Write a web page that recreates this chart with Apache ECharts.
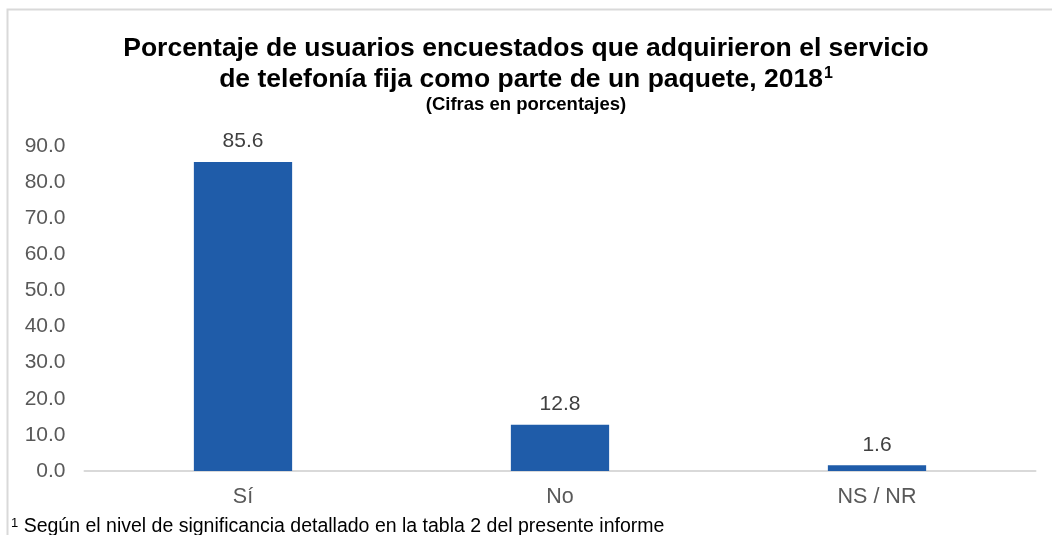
<!DOCTYPE html>
<html>
<head>
<meta charset="utf-8">
<script src="https://cdn.jsdelivr.net/npm/echarts@6/dist/echarts.min.js"></script>
<style>
  html, body { margin: 0; padding: 0; background: #fff; }
  #chart { width: 1052px; height: 535px; }
</style>
</head>
<body>
<div id="chart"></div>
<script>
// datos del grafico
var categorias = ["Sí", "No", "NS / NR"];
var porcentajes = [85.6, 12.8, 1.6];
var ejeMin = 0;
var ejeMax = 90;
var ejePaso = 10;

var fuente = "Liberation Sans, Arial, sans-serif";

var option = {
	animation: false,
	backgroundColor: "#fff",
	title: [
		{
			text: "{t|Porcentaje de usuarios encuestados que adquirieron el servicio}\n{t|de telefonía fija como parte de un paquete, 2018}{sup|1}",
			left: "center",
			top: 33,
			padding: 0,
			textStyle: {
				fontFamily: fuente,
				fontSize: 26.5,
				fontWeight: "bold",
				color: "#000",
				lineHeight: 31,
				align: "center",
				rich: {
					t: { fontFamily: fuente, fontSize: 26.5, fontWeight: "bold", color: "#000", lineHeight: 31 },
					sup: { fontFamily: fuente, fontSize: 16, fontWeight: "bold", color: "#000", lineHeight: 31, padding: [0, 0, 11, 1] }
				}
			}
		},
		{
			text: "(Cifras en porcentajes)",
			left: "center",
			top: 95,
			padding: 0,
			textStyle: { fontFamily: fuente, fontSize: 18.5, fontWeight: "bold", color: "#000", lineHeight: 20 }
		},
		{
			text: "{sup|1} Según el nivel de significancia detallado en la tabla 2 del presente informe",
			left: 11,
			top: 516,
			padding: 0,
			textStyle: {
				fontFamily: fuente,
				fontSize: 19.5,
				fontWeight: "normal",
				color: "#000",
				lineHeight: 22,
				rich: {
					sup: { fontFamily: fuente, fontSize: 13, color: "#000", lineHeight: 22, padding: [0, 0, 7, 0] }
				}
			}
		}
	],
	graphic: [
		{
			type: "rect",
			shape: { x: 7.5, y: 9.5, width: 1100, height: 600 },
			style: { fill: "none", stroke: "#d9d9d9", lineWidth: 2 },
			silent: true
		}
	],
	grid: { left: 84.5, right: 16.5, top: 146, bottom: 64, containLabel: false },
	xAxis: {
		type: "category",
		data: categorias,
		axisLine: { show: true, lineStyle: { color: "#d9d9d9", width: 2 } },
		axisTick: { show: false },
		axisLabel: { fontFamily: fuente, fontSize: 21.5, color: "#595959", margin: 15 }
	},
	yAxis: {
		type: "value",
		min: ejeMin,
		max: ejeMax,
		interval: ejePaso,
		axisLine: { show: false },
		axisTick: { show: false },
		splitLine: { show: false },
		axisLabel: {
			fontFamily: fuente,
			fontSize: 21,
			color: "#595959",
			margin: 19,
			formatter: function (v) { return v.toFixed(1); }
		}
	},
	series: [
		{
			type: "bar",
			data: porcentajes,
			barWidth: "31%",
			itemStyle: { color: "#1f5ca9" },
			label: {
				show: true,
				position: "top",
				distance: 10,
				fontFamily: fuente,
				fontSize: 21,
				color: "#404040",
				formatter: function (p) { return p.value.toFixed(1); }
			}
		}
	]
};

var myChart = echarts.init(document.getElementById("chart"));
myChart.setOption(option);
</script>
</body>
</html>
